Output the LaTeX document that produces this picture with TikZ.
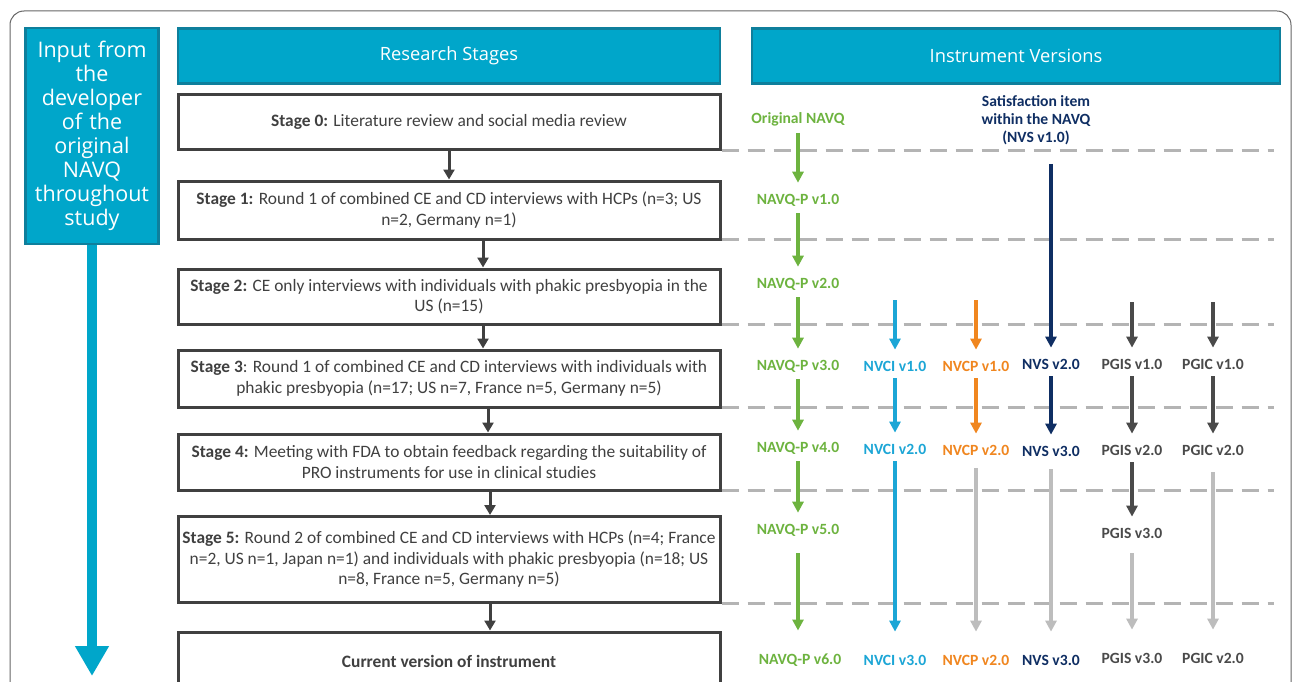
\documentclass[tikz,border=0pt]{standalone}
\usepackage{fontspec}
\setmainfont{Carlito}
\newfontfamily\headfont{Open Sans}
\usetikzlibrary{arrows.meta}

\definecolor{headcyan}{HTML}{00A6CA}
\definecolor{headedge}{HTML}{0E7F9C}
\definecolor{boxgray}{HTML}{404040}
\definecolor{navqgreen}{HTML}{6DB33F}
\definecolor{nvciblue}{HTML}{1CA6D6}
\definecolor{nvcporange}{HTML}{F0861F}
\definecolor{nvsnavy}{HTML}{0F2E63}
\definecolor{pgisgray}{HTML}{4A4A4A}
\definecolor{fadegray}{HTML}{BDBDBD}
\definecolor{dashgray}{HTML}{B4B4B4}

\tikzset{
  headbox/.style={fill=headcyan, draw=headedge, line width=2.5pt, text=white,
    font=\headfont\fontsize{18.3}{22}\selectfont, minimum height=55pt},
  stagebox/.style={draw=boxgray, line width=3pt, fill=white, text=boxgray,
    minimum width=542pt, align=center, font=\fontsize{17.4}{20.5}\selectfont},
  version/.style={font=\bfseries\fontsize{15.6}{18}\selectfont, align=center, inner sep=3pt},
  stagearrow/.style={draw=boxgray, line width=3pt, -{Triangle[width=11pt,length=10pt]}},
  verarrow/.style={line width=3.5pt, -{Triangle[width=11pt,length=11pt]},
    shorten <=4pt, shorten >=8pt},
  tobottom/.style={shorten >=20pt},
  divider/.style={draw=dashgray, line width=3pt, dash pattern=on 17pt off 9pt},
}

\begin{document}
\begin{tikzpicture}[x=1pt,y=-1pt]
  \fill[white] (0,0) rectangle (1292,682);
  \useasboundingbox (0,0) rectangle (1292,682);
  \draw[boxgray!80, line width=1pt, rounded corners=14pt] (10,11) rectangle (1291,720);

  % columns of the instrument versions
  \pgfmathsetmacro{\xnavq}{798}
  \pgfmathsetmacro{\xnvci}{895}
  \pgfmathsetmacro{\xnvcp}{976}
  \pgfmathsetmacro{\xnvs}{1051}
  \pgfmathsetmacro{\xpgis}{1132}
  \pgfmathsetmacro{\xpgic}{1213}

  % headers
  \node[headbox, minimum width=130pt, minimum height=216pt, text width=126pt, align=center,
    font=\headfont\fontsize{21.5}{24}\selectfont] (input) at (92,136)
    {Input from\\the\\developer\\of the\\original\\NAVQ\\throughout\\study};
  \node[headbox, minimum width=542pt] (research) at (449,56) {Research Stages};
  \node[headbox, minimum width=528pt] (instrument) at (1016,56) {Instrument Versions};

  \coordinate (input-end) at (92,676);
  \draw[headcyan, line width=10pt, -{Triangle[width=32pt,length=30pt]}] (input.south) -- (input-end);

  % research stages
  \node[stagebox, minimum height=55pt] (s0) at (449,122) {\textbf{Stage 0:} Literature review and social media review};
  \node[stagebox, minimum height=58pt] (s1) at (449,210) {\textbf{Stage 1:} Round 1 of combined CE and CD interviews with HCPs (n=3; US\\n=2, Germany n=1)};
  \node[stagebox, minimum height=55pt] (s2) at (449,296.5) {\textbf{Stage 2:} CE only interviews with individuals with phakic presbyopia in the\\US (n=15)};
  \node[stagebox, minimum height=57pt] (s3) at (449,378.5) {\textbf{Stage 3}: Round 1 of combined CE and CD interviews with individuals with\\phakic presbyopia (n=17; US n=7, France n=5, Germany n=5)};
  \node[stagebox, minimum height=56pt] (s4) at (449,462) {\textbf{Stage 4:} Meeting with FDA to obtain feedback regarding the suitability of\\PRO instruments for use in clinical studies};
  \node[stagebox, minimum height=86pt] (s5) at (449,559.5) {\textbf{Stage 5:} Round 2 of combined CE and CD interviews with HCPs (n=4; France\\n=2, US n=1, Japan n=1) and individuals with phakic presbyopia (n=18; US\\n=8, France n=5, Germany n=5)};
  \node[stagebox, minimum height=58pt] (cur) at (449,661) {\textbf{Current version of instrument}};

  \draw[stagearrow] (s0.south) -- (s1.north);
  \draw[stagearrow] ([xshift=34pt]s1.south) -- ([xshift=34pt]s2.north);
  \draw[stagearrow] ([xshift=34pt]s2.south) -- ([xshift=34pt]s3.north);
  \draw[stagearrow] ([xshift=39pt]s3.south) -- ([xshift=39pt]s4.north);
  \draw[stagearrow] ([xshift=41pt]s4.south) -- ([xshift=41pt]s5.north);
  \draw[stagearrow] ([xshift=41pt]s5.south) -- ([xshift=41pt]cur.north);

  % dashed dividers
  \foreach \s in {s0,s1,s2,s3,s4,s5}
    \draw[divider] ([yshift=1pt]\s.south east) -- ++(552,0);

  % instrument versions
  \node[version, navqgreen] (navq0) at (\xnavq,119) {Original NAVQ};
  \node[version, navqgreen] (navq1) at (\xnavq,200) {NAVQ-P v1.0};
  \node[version, navqgreen] (navq2) at (\xnavq,284) {NAVQ-P v2.0};
  \node[version, navqgreen] (navq3) at (\xnavq,366) {NAVQ-P v3.0};
  \node[version, navqgreen] (navq4) at (\xnavq,448) {NAVQ-P v4.0};
  \node[version, navqgreen] (navq5) at (\xnavq,530) {NAVQ-P v5.0};
  \node[version, navqgreen] (navq6) at (\xnavq+2,660) {NAVQ-P v6.0};

  \node[version, nvsnavy] (nvs0) at (1036,120) {Satisfaction item\\within the NAVQ\\(NVS v1.0)};

  \node[version, nvciblue] (nvci1) at (\xnvci,366) {NVCI v1.0};
  \node[version, nvcporange] (nvcp1) at (\xnvcp,366) {NVCP v1.0};
  \node[version, nvsnavy] (nvs2) at (\xnvs,364) {NVS v2.0};
  \node[version, pgisgray] (pgis1) at (\xpgis,364) {PGIS v1.0};
  \node[version, pgisgray] (pgic1) at (\xpgic,364) {PGIC v1.0};

  \node[version, nvciblue] (nvci2) at (\xnvci,449) {NVCI v2.0};
  \node[version, nvcporange] (nvcp2) at (\xnvcp,450) {NVCP v2.0};
  \node[version, nvsnavy] (nvs3) at (\xnvs,451) {NVS v3.0};
  \node[version, pgisgray] (pgis2) at (\xpgis,450) {PGIS v2.0};
  \node[version, pgisgray] (pgic2) at (\xpgic,450) {PGIC v2.0};

  \node[version, pgisgray] (pgis3) at (\xpgis,533) {PGIS v3.0};

  \node[version, nvciblue] (nvci3) at (\xnvci,660) {NVCI v3.0};
  \node[version, nvcporange] (nvcp3) at (\xnvcp,660) {NVCP v2.0};
  \node[version, nvsnavy] (nvs4) at (\xnvs,660) {NVS v3.0};
  \node[version, pgisgray] (pgis4) at (\xpgis,658) {PGIS v3.0};
  \node[version, pgisgray] (pgic3) at (\xpgic,658) {PGIC v2.0};

  \coordinate (nvci-in) at (\xnvci,300);
  \coordinate (nvcp-in) at (\xnvcp,300);
  \coordinate (pgis-in) at (\xpgis,302);
  \coordinate (pgic-in) at (\xpgic,302);

  % version arrows
  \draw[verarrow, navqgreen] (navq0) -- (navq1);
  \draw[verarrow, navqgreen] (navq1) -- (navq2);
  \draw[verarrow, navqgreen] (navq2) -- (navq3);
  \draw[verarrow, navqgreen] (navq3) -- (navq4);
  \draw[verarrow, navqgreen] (navq4) -- (navq5);
  \draw[verarrow, navqgreen, tobottom, shorten <=14pt] (navq5) -- (navq5 |- navq6.north);

  \draw[verarrow, nvsnavy, shorten <=16pt] (nvs0.south -| nvs2) -- (nvs2);
  \draw[verarrow, nvsnavy] (nvs2) -- (nvs3);
  \draw[verarrow, fadegray, tobottom, shorten <=10pt] (nvs3) -- (nvs4);

  \draw[verarrow, nvciblue, shorten <=0pt] (nvci-in) -- (nvci1);
  \draw[verarrow, nvciblue] (nvci1) -- (nvci2);
  \draw[verarrow, nvciblue, tobottom] (nvci2) -- (nvci3);

  \draw[verarrow, nvcporange, shorten <=0pt] (nvcp-in) -- (nvcp1);
  \draw[verarrow, nvcporange] (nvcp1) -- (nvcp2);
  \draw[verarrow, fadegray, tobottom, shorten <=10pt] (nvcp2) -- (nvcp3);

  \draw[verarrow, pgisgray, shorten <=0pt] (pgis-in) -- (pgis1);
  \draw[verarrow, pgisgray] (pgis1) -- (pgis2);
  \draw[verarrow, pgisgray] (pgis2) -- (pgis3);
  \draw[verarrow, fadegray, tobottom, shorten <=12pt] (pgis3) -- (pgis4);

  \draw[verarrow, pgisgray, shorten <=0pt] (pgic-in) -- (pgic1);
  \draw[verarrow, pgisgray] (pgic1) -- (pgic2);
  \draw[verarrow, fadegray, tobottom, shorten <=14pt] (pgic2) -- (pgic3);
\end{tikzpicture}
\end{document}
